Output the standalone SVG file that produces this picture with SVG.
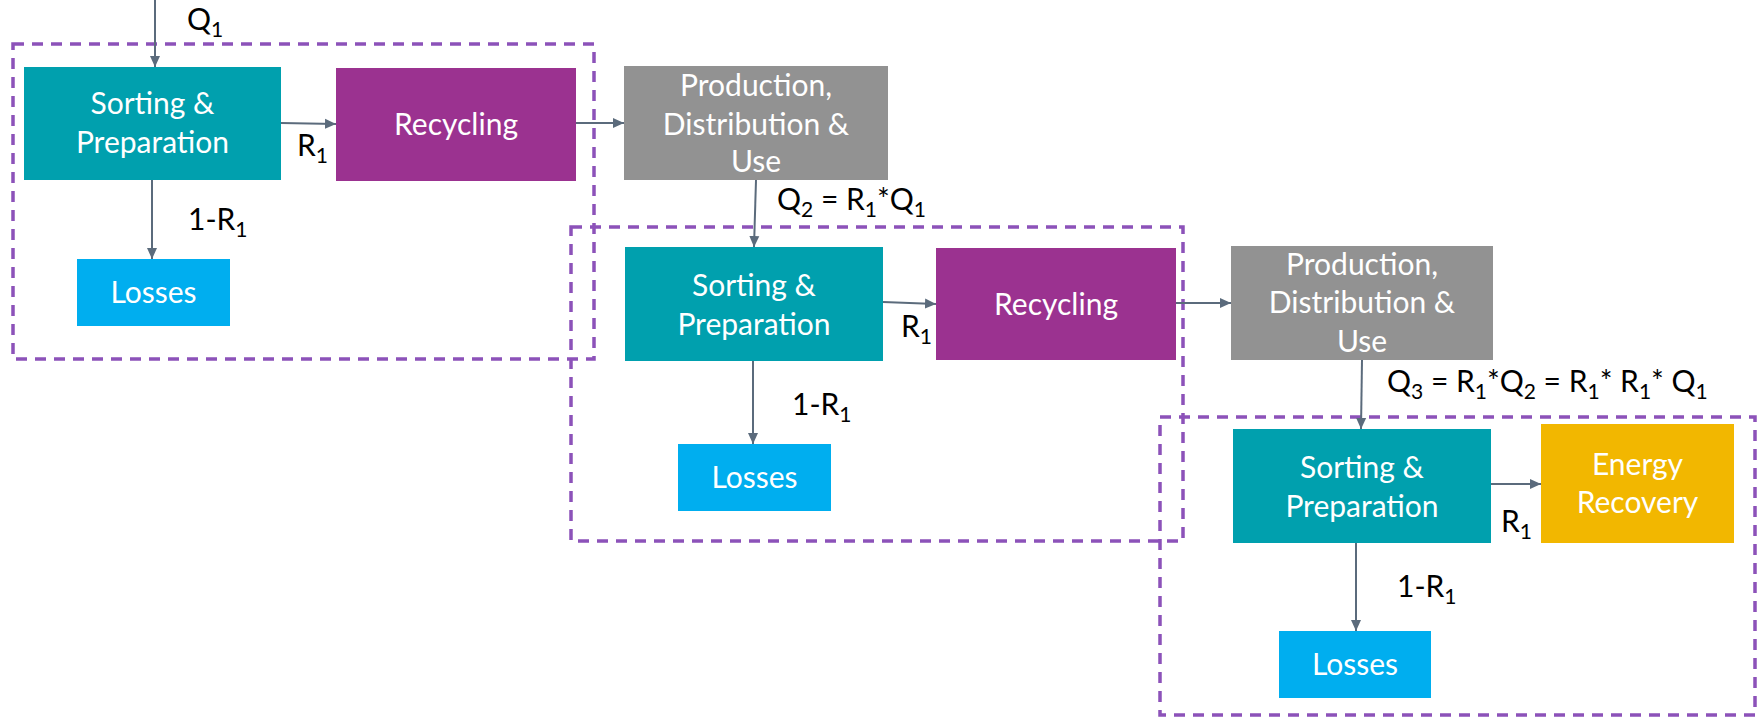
<svg xmlns="http://www.w3.org/2000/svg" width="1760" height="720" viewBox="0 0 1760 720">
<style>
.bt{font-family:Lato,"Open Sans",sans-serif;font-size:30px;fill:#fff;text-anchor:middle}
.lb{font-family:Lato,"Open Sans",sans-serif;font-size:30px;fill:#000}
.sub{font-size:21px}
.teal{fill:#00A0AE}
.purp{fill:#9B3290}
.gray{fill:#929292}
.blue{fill:#00AEEF}
.gold{fill:#F2B700}
.dash{fill:none;stroke:#8C52B9;stroke-width:3.5;stroke-dasharray:11 8}
.arr{fill:none;stroke:#5B6B7C;stroke-width:2;marker-end:url(#ah)}
</style>
<defs>
<marker id="ah" markerUnits="userSpaceOnUse" markerWidth="12" markerHeight="12" viewBox="0 0 12 12" refX="11" refY="6" orient="auto">
<path d="M0,1 L11,6 L0,11 Z" fill="#5B6B7C"/>
</marker>
</defs>

<g id="regions">
<rect class="dash" x="13" y="44" width="581" height="315"/>
<rect class="dash" x="571" y="227" width="612" height="314"/>
<rect class="dash" x="1160" y="417" width="595" height="298"/>
</g>

<g id="connectors">
<line class="arr" x1="155" y1="0" x2="155" y2="67"/>
<line class="arr" x1="281" y1="123" x2="336" y2="124"/>
<line class="arr" x1="152" y1="180" x2="152" y2="259"/>
<line class="arr" x1="576" y1="123" x2="624" y2="123"/>
<line class="arr" x1="756" y1="180" x2="754" y2="247"/>
<line class="arr" x1="883" y1="302" x2="936" y2="304"/>
<line class="arr" x1="753" y1="361" x2="753" y2="444"/>
<line class="arr" x1="1176" y1="303" x2="1231" y2="303"/>
<line class="arr" x1="1362" y1="360" x2="1361" y2="429"/>
<line class="arr" x1="1491" y1="484" x2="1541" y2="484"/>
<line class="arr" x1="1356" y1="543" x2="1356" y2="631"/>
</g>

<g id="labels">
<text class="lb" x="187" y="30">Q<tspan class="sub" dy="7">1</tspan></text>
<text class="lb" x="297" y="156">R<tspan class="sub" dy="7">1</tspan></text>
<text class="lb" x="188" y="230">1-R<tspan class="sub" dy="7">1</tspan></text>
<text class="lb" x="777" y="210">Q<tspan class="sub" dy="7">2</tspan><tspan dy="-7"> = R</tspan><tspan class="sub" dy="7">1</tspan><tspan dy="-7">*Q</tspan><tspan class="sub" dy="7">1</tspan></text>
<text class="lb" x="901" y="337">R<tspan class="sub" dy="7">1</tspan></text>
<text class="lb" x="792" y="415">1-R<tspan class="sub" dy="7">1</tspan></text>
<text class="lb" x="1387" y="392">Q<tspan class="sub" dy="7">3</tspan><tspan dy="-7"> = R</tspan><tspan class="sub" dy="7">1</tspan><tspan dy="-7">*Q</tspan><tspan class="sub" dy="7">2</tspan><tspan dy="-7"> = R</tspan><tspan class="sub" dy="7">1</tspan><tspan dy="-7">* R</tspan><tspan class="sub" dy="7">1</tspan><tspan dy="-7">* Q</tspan><tspan class="sub" dy="7">1</tspan></text>
<text class="lb" x="1501" y="532">R<tspan class="sub" dy="7">1</tspan></text>
<text class="lb" x="1397" y="597">1-R<tspan class="sub" dy="7">1</tspan></text>
</g>

<g id="sort1">
<rect class="teal" x="24" y="67" width="257" height="113"/>
<text class="bt" x="152.5" y="114">Sorting &amp;</text>
<text class="bt" x="152.5" y="153">Preparation</text>
</g>
<g id="recycling1">
<rect class="purp" x="336" y="68" width="240" height="113"/>
<text class="bt" x="456" y="135">Recycling</text>
</g>
<g id="losses1">
<rect class="blue" x="77" y="259" width="153" height="67"/>
<text class="bt" x="153.5" y="303">Losses</text>
</g>
<g id="production1">
<rect class="gray" x="624" y="66" width="264" height="114"/>
<text class="bt" x="756" y="96">Production,</text>
<text class="bt" x="756" y="135">Distribution &amp;</text>
<text class="bt" x="756" y="172">Use</text>
</g>

<g id="sort2">
<rect class="teal" x="625" y="247" width="258" height="114"/>
<text class="bt" x="754" y="296">Sorting &amp;</text>
<text class="bt" x="754" y="335">Preparation</text>
</g>
<g id="recycling2">
<rect class="purp" x="936" y="248" width="240" height="112"/>
<text class="bt" x="1056" y="315">Recycling</text>
</g>
<g id="losses2">
<rect class="blue" x="678" y="444" width="153" height="67"/>
<text class="bt" x="754.5" y="488">Losses</text>
</g>
<g id="production2">
<rect class="gray" x="1231" y="246" width="262" height="114"/>
<text class="bt" x="1362" y="275">Production,</text>
<text class="bt" x="1362" y="313">Distribution &amp;</text>
<text class="bt" x="1362" y="352">Use</text>
</g>

<g id="sort3">
<rect class="teal" x="1233" y="429" width="258" height="114"/>
<text class="bt" x="1362" y="478">Sorting &amp;</text>
<text class="bt" x="1362" y="517">Preparation</text>
</g>
<g id="energy">
<rect class="gold" x="1541" y="424" width="193" height="119"/>
<text class="bt" x="1637.5" y="475">Energy</text>
<text class="bt" x="1637.5" y="513">Recovery</text>
</g>
<g id="losses3">
<rect class="blue" x="1279" y="631" width="152" height="67"/>
<text class="bt" x="1355" y="675">Losses</text>
</g>
</svg>
